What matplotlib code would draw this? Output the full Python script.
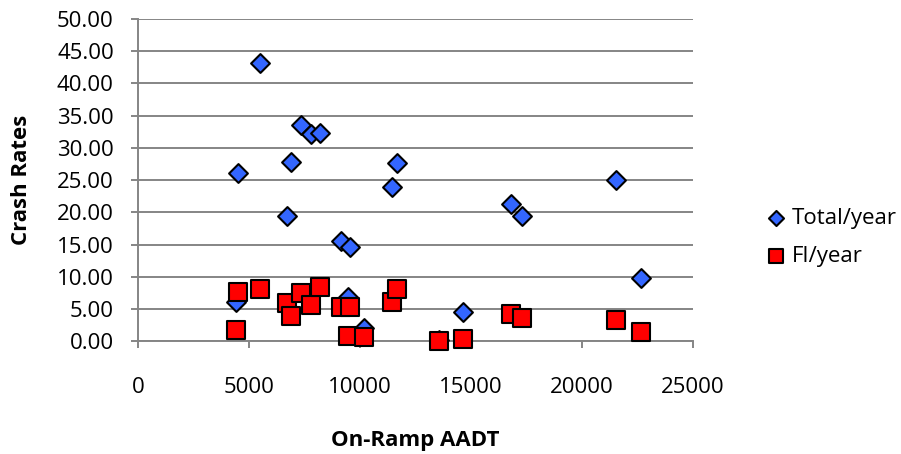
import matplotlib
matplotlib.use('Agg')
import matplotlib.pyplot as plt
from matplotlib.ticker import FormatStrFormatter

# On-ramp AADT for each ramp (shared by both series)
aadt = [4400, 4500, 5500, 6690, 6875, 7320, 7777, 8183, 9120, 9450,
        9540, 10180, 11430, 11645, 13555, 14645, 16794, 17290, 21514, 22669]
total_year = [6.2, 26.1, 43.1, 19.5, 27.8, 33.6, 32.2, 32.3, 15.6, 6.9,
              14.7, 2.1, 24.0, 27.6, 0.3, 4.5, 21.3, 19.4, 25.0, 9.9]
fi_year = [1.8, 7.7, 8.2, 5.9, 4.0, 7.5, 5.7, 8.4, 5.3, 0.8,
           5.3, 0.7, 6.1, 8.1, 0.0, 0.4, 4.2, 3.6, 3.4, 1.4]

x_ticks = [0, 5000, 10000, 15000, 20000, 25000]
y_ticks = [0, 5, 10, 15, 20, 25, 30, 35, 40, 45, 50]

plt.rcParams['font.family'] = ['Open Sans', 'DejaVu Sans']

fig = plt.figure(figsize=(9.01, 4.54), dpi=100, facecolor='w')
ax = fig.add_axes([0.1537, 0.2478, 0.6154, 0.7104])

grid_col = '#858585'
ax.scatter(aadt, total_year, marker='D', s=92, c='#3366ff',
           edgecolors='black', linewidths=1.5, zorder=3, clip_on=False,
           label='Total/year')
ax.scatter(aadt, fi_year, marker='s', s=180, c='#ff0000',
           edgecolors='black', linewidths=1.5, zorder=4, clip_on=False,
           label='FI/year')

ax.set_xlim(0, 25000)
ax.set_ylim(0, 50)
ax.set_xticks(x_ticks)
ax.set_yticks(y_ticks)
ax.yaxis.set_major_formatter(FormatStrFormatter('%.2f'))

ax.grid(axis='y', color=grid_col, linewidth=1.4, zorder=0)
ax.set_axisbelow(True)
for side in ['top', 'right']:
    ax.spines[side].set_visible(False)
for side in ['left', 'bottom']:
    ax.spines[side].set_color(grid_col)
    ax.spines[side].set_linewidth(1.4)

ax.tick_params(axis='both', direction='out', length=4.8, width=1.4,
               color=grid_col, labelsize=16, labelcolor='black')
ax.tick_params(axis='x', pad=21)
ax.tick_params(axis='y', pad=13)

ax.set_xlabel('On-Ramp AADT', fontsize=16, fontweight='bold', labelpad=23)
ax.set_ylabel('Crash Rates', fontsize=16, fontweight='bold', labelpad=18)

fig.legend(loc='center left', bbox_to_anchor=(0.854, 0.477), frameon=False,
           fontsize=16, markerscale=0.8, handlelength=0.6, handletextpad=0.4,
           labelspacing=0.75, borderpad=0, borderaxespad=0)

fig.savefig('out.png', dpi=100, facecolor='w')
